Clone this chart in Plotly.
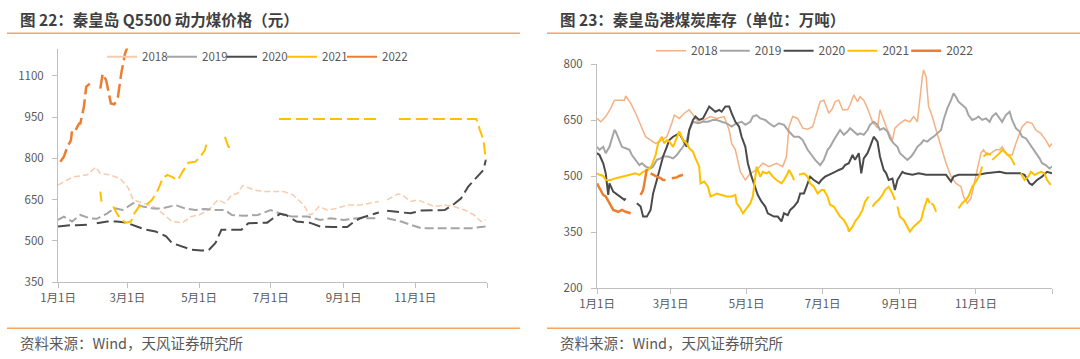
import plotly.graph_objects as go

W, H = 1080, 359
N = None

# ---------------- Left chart: 秦皇岛 Q5500 动力煤价格 (day of year, value) ----------------
p18_days = [0,13,25,32,36,44,53,60,64,72,81,89,97,106,113,120,128,136,142,148,153,157,167,176,180,192,200,209,214,217,222,229,237,246,257,266,273,276,280,289,293,300,306,312,320,329,337,346,354,360,364]
p18_vals = [703,733,740,768,745,740,727,691,649,637,625,600,570,566,588,594,612,649,637,667,673,701,685,679,679,679,667,630,594,600,625,612,618,630,630,637,643,N,649,670,667,643,649,639,625,630,625,612,594,570,577]

p19_days = [0,5,12,19,27,33,42,48,55,64,72,81,89,100,108,117,125,134,142,148,159,170,181,192,200,212,223,232,243,254,266,273,276,280,292,300,309,323,337,352,364]
p19_vals = [576,588,570,594,582,580,600,619,612,637,625,618,618,630,618,612,616,612,612,594,591,594,612,594,588,588,576,582,576,582,582,582,N,582,570,558,546,546,546,546,552]

p20_days = [0,8,16,25,29,33,42,50,58,67,75,83,92,97,106,114,122,128,134,139,148,156,162,170,178,183,189,194,203,214,223,234,246,252,257,266,273,276,280,289,300,309,320,329,337,343,349,357,362,364]
p20_vals = [552,556,557,558,N,564,570,570,566,552,540,534,516,492,479,467,465,465,492,540,540,540,564,564,566,582,598,594,570,566,552,550,550,570,582,594,603,N,609,606,600,610,612,612,634,655,697,733,758,794]

p21_days = [36,37,42,47,50,54,58,62,65,69,75,80,85,89,93,97,102,106,111,117,121,125,127,135,142,145,148,170,188,273,276,290,356,359,362,364]
p21_vals = [679,643,N,625,600,576,566,570,600,625,630,649,685,727,740,733,721,752,784,788,806,830,866,N,878,842,840,N,943,943,N,943,943,903,866,794]

p22_days = [2,5,8,11,12,15,18,19,22,24,27,31,36,38,41,43,45,48,51,54,57,59]
p22_vals = [788,806,842,866,903,903,927,927,987,1060,1072,N,1054,1108,1084,1036,1000,997,1024,1114,1181,1205]

# ---------------- Right chart: 秦皇岛港煤炭库存 (万吨) ----------------
i18_days = [0,3,7,11,14,18,22,23,27,31,35,39,43,47,52,56,60,62,66,70,74,78,82,86,91,96,102,106,108,111,115,119,123,128,133,138,144,149,152,154,157,161,165,169,173,
            179,182,186,189,191,194,197,201,203,206,209,211,214,217,221,225,227,230,233,237,239,243,247,251,254,257,258,261,262,264,266,269,272,276,280,284,288,292,294,297,300,302,305,308,310,313,316,320,323,325,329,333,336,339,341,345,349,352,356,360,363,365]
i18_vals = [655,646,660,682,704,703,704,715,696,669,638,606,597,588,597,606,642,664,655,669,678,660,642,651,660,655,660,624,588,571,512,490,508,517,535,526,535,526,553,633,660,655,629,626,633,
            700,704,669,682,700,704,678,678,691,718,700,713,704,682,646,629,678,651,624,597,629,642,651,646,660,646,678,767,785,767,687,660,624,579,535,499,481,472,446,428,441,472,517,562,571,557,562,571,571,579,557,557,588,615,633,646,642,624,615,597,579,588]

i19_days = [0,2,5,7,10,13,14,15,18,20,23,26,28,31,34,36,39,43,45,48,51,53,57,61,64,66,69,72,74,77,81,85,89,93,96,100,104,108,112,116,119,123,125,128,131,135,138,142,146,150,154,158,162,165,169,173,
            175,179,182,185,187,190,193,195,198,201,203,206,209,211,214,217,219,222,225,227,230,233,235,238,241,243,246,249,252,254,257,260,262,265,268,270,273,276,278,281,284,286,288,290,293,296,298,301,304,306,309,312,315,317,320,323,325,328,331,333,336,339,341,344,347,349,352,355,357,360,363,365]
i19_vals = [579,571,579,562,579,615,624,620,597,579,575,571,557,544,530,535,526,521,526,544,548,553,553,548,557,566,579,597,624,646,642,646,646,651,651,646,642,633,642,646,638,646,660,664,655,651,642,633,642,638,620,606,606,597,571,553,
            544,530,544,571,579,597,615,624,611,620,629,620,611,615,611,624,638,646,638,624,629,620,602,588,579,562,553,544,553,562,579,588,597,593,602,606,615,624,651,682,704,722,713,700,691,682,664,651,655,660,651,655,646,660,669,655,646,664,673,651,629,620,606,602,588,579,562,548,535,530,521,526]

i20_days = [0,2,5,7,9,10,13,17,19,22,23,27,32,35,37,40,43,45,48,51,53,56,58,61,64,66,69,72,74,77,79,82,85,87,90,93,95,98,100,103,106,108,111,114,116,119,121,124,127,129,132,135,137,140,142,145,148,150,153,155,158,161,163,166,169,171,174,
            178,180,183,186,189,191,194,197,199,202,205,207,210,212,214,217,219,222,225,227,230,232,234,237,239,241,245,247,253,258,264,269,274,280,284,286,290,296,301,306,312,317,323,328,333,339,343,347,349,353,357,361,365]
i20_vals = [562,557,535,508,450,481,459,450,446,437,441,N,428,419,392,392,410,454,490,526,553,579,597,606,611,615,597,579,624,651,660,651,655,669,687,678,673,678,673,687,687,669,646,633,606,579,535,499,472,450,432,419,401,396,392,392,379,401,396,410,419,432,454,454,481,499,490,
            481,490,499,504,508,512,517,521,530,535,557,544,562,508,548,562,579,606,593,553,517,508,490,494,463,490,512,508,504,508,504,504,506,504,486,499,504,504,506,504,508,510,512,508,508,508,504,481,477,490,499,512,508]

i21_days = [0,2,5,7,11,15,20,26,31,34,37,41,44,47,49,52,54,56,58,61,64,66,69,72,74,77,79,82,83,86,89,91,94,96,100,104,108,111,112,115,117,120,123,125,127,128,131,133,136,138,141,144,148,150,153,154,157,158,160,162,166,169,171,
            174,177,180,182,185,187,190,193,195,198,201,202,205,207,210,213,215,218,219.5,221,223,226,229,231,234,237,239,240,241,243,246,249,251,254,257,260,262,265,267,267.5,268,270,272,280,290,293,296,298,301,304,307,309,309.5,310,313,316,316.5,317,320,323,325,328,331,333,335,338,340,343,346,348,351,353,356,359,361,364]
i21_vals = [508,504,501,490,490,495,499,504,508,504,512,517,530,557,588,606,588,597,593,579,606,620,597,588,575,566,548,526,481,486,472,446,450,454,450,446,446,450,428,414,401,414,428,446,499,526,499,512,508,512,499,490,481,490,508,517,499,490,N,504,508,499,481,
            472,454,463,463,445,423,419,401,392,383,365,352,365,379,392,410,432,446,N,419,428,437,450,463,472,454,437,N,419,392,383,365,352,365,374,383,410,441,428,N,428,423,405,N,414,428,437,446,472,486,504,526,N,553,562,557,N,544,553,562,571,562,553,544,530,N,508,490,499,512,504,508,512,508,490,477]

i22_days = [0,2,5,7,10,13,17,20,23,26,27,31,35,37,38,39,40,41.5,43,45,48,51,53,55,57,60,64,66,69]
i22_vals = [481,468,450,446,428,410,405,410,405,401,401,N,450,463,481,500,520,N,508,504,499,495,490,490,N,495,497,501,504]

YEARS = ["2018", "2019", "2020", "2021", "2022"]
TICK_DAYS = [0, 59, 120, 181, 243, 304, 365]
TICK_TEXT = ["1月1日", "3月1日", "5月1日", "7月1日", "9月1日", "11月1日", ""]
LEFT_YTICKS = [350, 500, 650, 800, 950, 1100]
RIGHT_YTICKS = [200, 350, 500, 650, 800]

FONT = "Noto Sans CJK SC, Noto Sans, sans-serif"
TXT = "#595959"
AXC = "#BFBFBF"
RULE = "#F5A462"

price_series = [(p18_days, p18_vals), (p19_days, p19_vals), (p20_days, p20_vals), (p21_days, p21_vals), (p22_days, p22_vals)]
inv_series = [(i18_days, i18_vals), (i19_days, i19_vals), (i20_days, i20_vals), (i21_days, i21_vals), (i22_days, i22_vals)]

left_styles = [
    dict(color="#F8CBAD", width=1.5, dash="6px,3px"),
    dict(color="#A5A5A5", width=2, dash="9px,4px"),
    dict(color="#4A4A4A", width=2, dash="12px,5px"),
    dict(color="#FFC000", width=2, dash="12px,5px"),
    dict(color="#ED7D31", width=2.5, dash="14px,5px"),
]
right_styles = [
    dict(color="#F4B183", width=1.5),
    dict(color="#A5A5A5", width=2),
    dict(color="#4A4A4A", width=2),
    dict(color="#FFC000", width=2),
    dict(color="#ED7D31", width=2.5),
]

fig = go.Figure()

for name, (d, v), st in zip(YEARS, price_series, left_styles):
    fig.add_trace(go.Scatter(x=d, y=v, mode="lines", line=st, showlegend=False,
                             connectgaps=False, xaxis="x", yaxis="y", name=name))
# legend entries for the left chart (solid swatches, as in the reference)
for name, st in zip(YEARS, left_styles):
    fig.add_trace(go.Scatter(x=[N], y=[N], mode="lines",
                             line=dict(color=st["color"], width=2),
                             name=name, legend="legend", xaxis="x", yaxis="y"))

for name, (d, v), st in zip(YEARS, inv_series, right_styles):
    fig.add_trace(go.Scatter(x=d, y=v, mode="lines", line=st, name=name,
                             connectgaps=False, xaxis="x2", yaxis="y2", legend="legend2"))

# blank trailing legend slots so the last legend label is not clipped
for lg, xa, ya in [("legend", "x", "y"), ("legend2", "x2", "y2")]:
    fig.add_trace(go.Scatter(x=[N], y=[N], mode="lines", name=" ",
                             line=dict(color="rgba(0,0,0,0)", width=0),
                             legend=lg, xaxis=xa, yaxis=ya, hoverinfo="skip"))

def px_x(p):
    return p / W

def px_y(p):
    return 1 - p / H

axis_common = dict(showgrid=False, zeroline=False, showline=True, linecolor=AXC, linewidth=1,
                   ticks="outside", tickcolor=AXC, ticklen=5, automargin=False,
                   tickfont=dict(family=FONT, size=11.5, color=TXT))

fig.update_layout(
    width=W, height=H, margin=dict(l=0, r=0, t=0, b=0, pad=0, autoexpand=False),
    paper_bgcolor="white", plot_bgcolor="white",
    font=dict(family=FONT, color=TXT),
    xaxis=dict(domain=[px_x(58), px_x(487)], range=[0, 365], tickmode="array",
               tickvals=TICK_DAYS, ticktext=TICK_TEXT, anchor="y", **axis_common),
    yaxis=dict(domain=[px_y(282), px_y(48.5)], range=[350, 1200], tickmode="array",
               tickvals=LEFT_YTICKS, anchor="x", ticklabelstandoff=6, **axis_common),
    xaxis2=dict(domain=[px_x(597), px_x(1052)], range=[0, 365], tickmode="array",
                tickvals=TICK_DAYS, ticktext=TICK_TEXT, anchor="y2", **axis_common),
    yaxis2=dict(domain=[px_y(288.3), px_y(64.3)], range=[200, 800], tickmode="array",
                tickvals=RIGHT_YTICKS, anchor="x2", ticklabelstandoff=6, **axis_common),
    legend=dict(orientation="h", x=px_x(102), y=px_y(56.7), xanchor="left", yanchor="middle",
                font=dict(family=FONT, size=11.5, color=TXT), bgcolor="rgba(0,0,0,0)",
                itemwidth=30, entrywidth=15, tracegroupgap=0),
    legend2=dict(orientation="h", x=px_x(651), y=px_y(50.7), xanchor="left", yanchor="middle",
                 font=dict(family=FONT, size=12, color=TXT), bgcolor="rgba(0,0,0,0)",
                 itemwidth=30, entrywidth=18.8),
)

annotations = [
    dict(text="<b>图 22：秦皇岛 Q5500 动力煤价格（元）</b>", x=px_x(18), y=px_y(19),
         xanchor="left", yanchor="middle", font=dict(family=FONT, size=15.5, color="#3F3F3F")),
    dict(text="<b>图 23：秦皇岛港煤炭库存（单位：万吨）</b>", x=px_x(558), y=px_y(19),
         xanchor="left", yanchor="middle", font=dict(family=FONT, size=15.5, color="#3F3F3F")),
    dict(text="资料来源：Wind，天风证券研究所", x=px_x(18), y=px_y(342),
         xanchor="left", yanchor="middle", font=dict(family=FONT, size=14.5, color=TXT)),
    dict(text="资料来源：Wind，天风证券研究所", x=px_x(558), y=px_y(342),
         xanchor="left", yanchor="middle", font=dict(family=FONT, size=14.5, color=TXT)),
]
for a in annotations:
    a.update(xref="paper", yref="paper", showarrow=False)
fig.update_layout(annotations=annotations)

shapes = []
for (x0, x1) in [(7, 520), (547, 1080)]:
    for yy in (33.3, 328.3):
        shapes.append(dict(type="line", xref="paper", yref="paper",
                           x0=px_x(x0), x1=px_x(x1), y0=px_y(yy), y1=px_y(yy),
                           line=dict(color=RULE, width=1.5)))
fig.update_layout(shapes=shapes)

fig.write_html("out.html", config={"displayModeBar": False},
               post_script="document.body.style.margin='0px';document.body.style.overflow='hidden';")
